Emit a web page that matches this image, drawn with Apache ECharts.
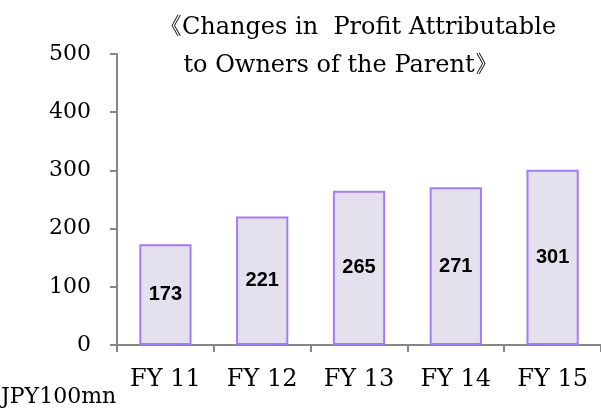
<!DOCTYPE html>
<html>
<head>
<meta charset="utf-8">
<script src="https://cdn.jsdelivr.net/npm/echarts@6/dist/echarts.min.js"></script>
<style>
  html, body { margin: 0; padding: 0; background: #fff; }
  #chart { width: 601px; height: 408px; }
</style>
</head>
<body>
<div id="chart"></div>
<script>
const categories = ['FY 11', 'FY 12', 'FY 13', 'FY 14', 'FY 15'];
const profit = [173, 221, 265, 271, 301];
const titleLines = ['《Changes in  Profit Attributable', 'to Owners of the Parent》'];
const unitLabel = 'JPY100mn';

const serif = '"DejaVu Serif", "Liberation Serif", serif';

const chart = echarts.init(document.getElementById('chart'));

chart.setOption({
  animation: false,
  title: [
    {
      text: titleLines[0],
      left: 357, top: 16, textAlign: 'center', padding: 0,
      textStyle: { fontFamily: serif, fontSize: 24, fontWeight: 'normal', color: '#000' }
    },
    {
      text: titleLines[1],
      left: 341, top: 54, textAlign: 'center', padding: 0,
      textStyle: { fontFamily: serif, fontSize: 24, fontWeight: 'normal', color: '#000' }
    },
    {
      text: unitLabel,
      left: 1, top: 386, padding: 0,
      textStyle: { fontFamily: serif, fontSize: 22, fontWeight: 'normal', color: '#000' }
    }
  ],
  grid: { left: 117, right: 0, top: 54, bottom: 63 },
  xAxis: {
    type: 'category',
    data: categories,
    axisLine: { lineStyle: { color: '#868686', width: 2 } },
    axisTick: { show: true, length: 7, lineStyle: { color: '#868686', width: 2 } },
    axisLabel: { fontFamily: serif, fontSize: 24, color: '#000', margin: 23 }
  },
  yAxis: {
    type: 'value',
    min: 0, max: 500, interval: 100,
    splitLine: { show: false },
    axisLine: { show: true, lineStyle: { color: '#868686', width: 2 } },
    axisTick: { show: true, length: 7, lineStyle: { color: '#868686', width: 2 } },
    axisLabel: { fontFamily: serif, fontSize: 22, color: '#000', margin: 26 }
  },
  series: [{
    type: 'bar',
    data: profit,
    barWidth: '54%',
    itemStyle: { color: '#e5e0ee', borderColor: '#a47cf6', borderWidth: 2 },
    label: {
      show: true,
      position: 'inside',
      fontFamily: '"Liberation Sans", Arial, sans-serif',
      fontWeight: 'bold',
      fontSize: 20,
      color: '#000'
    }
  }]
});
</script>
</body>
</html>
